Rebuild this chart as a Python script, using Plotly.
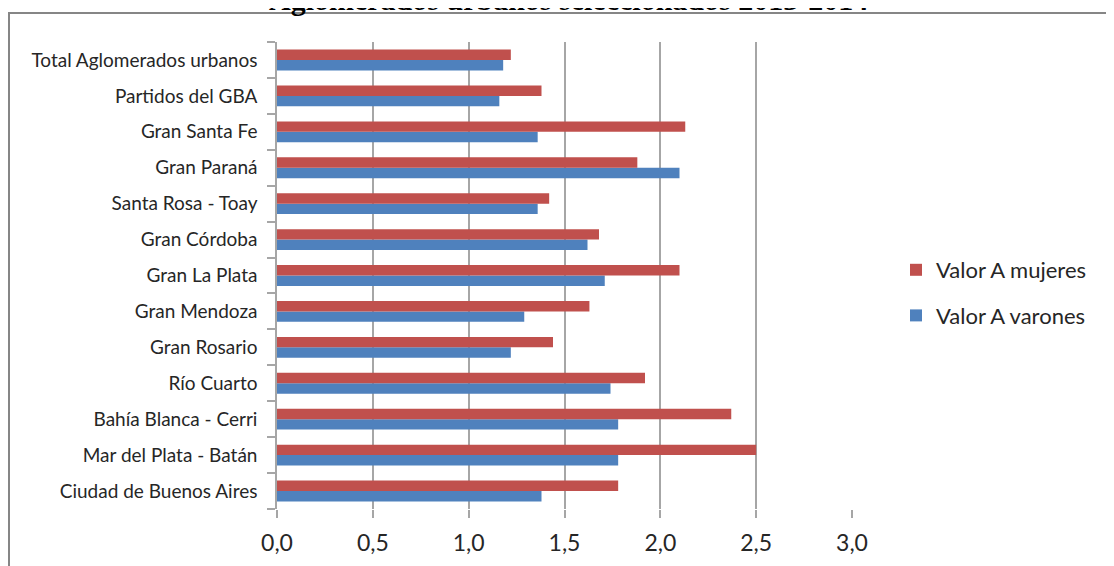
import plotly.graph_objects as go

# Categories listed bottom-to-top (as plotted)
categorias = [
    "Ciudad de Buenos Aires",
    "Mar del Plata - Batán",
    "Bahía Blanca - Cerri",
    "Río Cuarto",
    "Gran Rosario",
    "Gran Mendoza",
    "Gran La Plata",
    "Gran Córdoba",
    "Santa Rosa - Toay",
    "Gran Paraná",
    "Gran Santa Fe",
    "Partidos del GBA",
    "Total Aglomerados urbanos",
]
valor_mujeres = [1.78, 2.50, 2.37, 1.92, 1.44, 1.63, 2.10, 1.68, 1.42, 1.88, 2.13, 1.38, 1.22]
valor_varones = [1.38, 1.78, 1.78, 1.74, 1.22, 1.29, 1.71, 1.62, 1.36, 2.10, 1.36, 1.16, 1.18]
x_ticks = [0, 0.5, 1.0, 1.5, 2.0, 2.5, 3.0]
titulo = "Aglomerados urbanos seleccionados 2013-2014"

# page has an 8px body margin, so figure coords = screen coords - 8
W, H = 1106, 558
L, R, T, B = 269, 844, 34, 501


def px_x(p):
    return (p - L) / (R - L)


def px_y(p):
    return (B - p) / (B - T)


fig = go.Figure()
fig.add_trace(go.Bar(
    y=categorias, x=valor_varones, orientation="h", name="Valor A varones",
    marker=dict(color="#4F81BD", line=dict(width=0)), legendgroup="v",
    legendrank=2,
))
fig.add_trace(go.Bar(
    y=categorias, x=valor_mujeres, orientation="h", name="Valor A mujeres",
    marker=dict(color="#C0504D", line=dict(width=0)), legendgroup="m",
    legendrank=1,
))

fig.update_layout(
    width=W, height=H,
    margin=dict(l=L, r=W - R, t=T, b=H - B, pad=0, autoexpand=False),
    paper_bgcolor="white", plot_bgcolor="white",
    barmode="group", bargap=0.42, bargroupgap=0,
    separators=",.",
    font=dict(family="Lato", color="#262626"),
    showlegend=True,
    legend=dict(
        x=px_x(888), y=px_y(241), xanchor="left", yanchor="top",
        traceorder="grouped", tracegroupgap=14,
        font=dict(size=22, family="Lato", color="#262626"),
        bgcolor="rgba(0,0,0,0)",
    ),
    xaxis=dict(
        range=[0, 3.0], tickvals=x_ticks, tickformat=".1f",
        showgrid=True, gridcolor="#a6a6a6", gridwidth=1.5,
        zeroline=False, showline=False,
        ticks="outside", ticklen=8, tickcolor="#a6a6a6", tickwidth=1.5,
        tickfont=dict(size=23, family="Lato", color="#262626"),
        ticklabelstandoff=5, automargin=False,
        fixedrange=True,
    ),
    yaxis=dict(
        type="category", categoryorder="array", categoryarray=categorias,
        showline=True, linecolor="#a6a6a6", linewidth=1.5,
        ticks="outside", ticklen=8, tickcolor="#a6a6a6", tickwidth=1.5,
        tickson="boundaries", showgrid=False,
        tickfont=dict(size=19, family="Lato", color="#262626"),
        ticklabelstandoff=14, automargin=False,
        fixedrange=True,
    ),
    shapes=[dict(
        type="rect", xref="paper", yref="paper",
        x0=px_x(1), x1=px_x(1130), y0=px_y(580), y1=px_y(5),
        line=dict(color="#868686", width=2), fillcolor="rgba(0,0,0,0)",
        layer="below",
    )],
    annotations=[dict(
        text="<b>" + titulo + "</b>", xref="paper", yref="paper",
        x=px_x(560), y=px_y(10), xanchor="center", yanchor="bottom",
        showarrow=False,
        font=dict(family="Liberation Serif", size=30, color="black"),
    )],
)

fig.write_html("out.html")
